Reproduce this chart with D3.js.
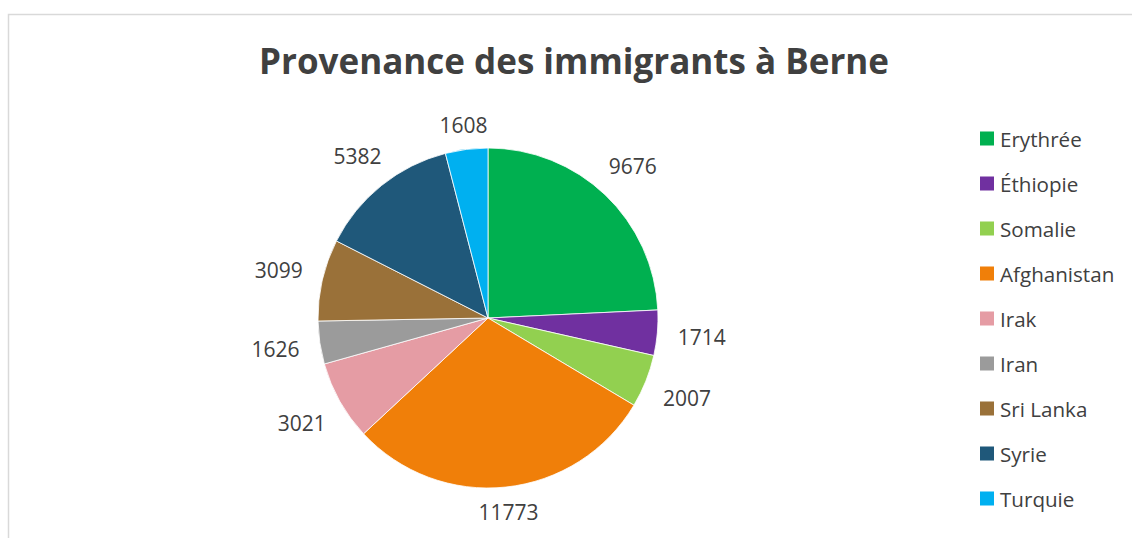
<!DOCTYPE html>
<html>
<head>
<meta charset="utf-8">
<script src="https://cdn.jsdelivr.net/npm/d3@7"></script>
<style>
  html, body { margin: 0; padding: 0; background: #fff; }
  svg { display: block; }
</style>
</head>
<body>
<svg id="chart" width="1132" height="538"></svg>
<script>
// Countries of origin and number of immigrants
const countries = ["Erythrée", "Éthiopie", "Somalie", "Afghanistan", "Irak", "Iran", "Sri Lanka", "Syrie", "Turquie"];
const counts = [9676, 1714, 2007, 11773, 3021, 1626, 3099, 5382, 1608];
const colors = ["#00B050", "#7030A0", "#92D050", "#F07F09", "#E59CA4", "#9B9B9B", "#9A7139", "#1F587A", "#00B0F0"];
const title = "Provenance des immigrants à Berne";

const W = 1132, H = 538;
const svg = d3.select("#chart");
const font = "'Open Sans', 'Noto Sans', sans-serif";
const textColor = "#404040";

// Chart frame
svg.append("rect")
  .attr("x", 8.5).attr("y", 14.5)
  .attr("width", W + 10).attr("height", H + 10)
  .attr("fill", "none").attr("stroke", "#d9d9d9").attr("stroke-width", 1.5);

// Title
svg.append("text")
  .attr("x", 574).attr("y", 74)
  .attr("text-anchor", "middle")
  .attr("font-family", font).attr("font-weight", 700)
  .attr("font-size", 35).attr("fill", textColor)
  .text(title);

// Pie
const cx = 488, cy = 318, r = 170;
const data = countries.map((c, i) => ({ name: c, value: counts[i], color: colors[i] }));
const pie = d3.pie().value(d => d.value).sort(null);
const arcs = pie(data);
const arc = d3.arc().innerRadius(0).outerRadius(r);

const g = svg.append("g").attr("transform", `translate(${cx},${cy})`);
g.selectAll("path.slice")
  .data(arcs)
  .join("path")
  .attr("class", "slice")
  .attr("d", arc)
  .attr("fill", d => d.data.color)
  .attr("stroke", "#fff")
  .attr("stroke-width", 0.8);

// Value labels outside the slices
const fmt = d3.format("d");
const labelSize = 21;
const gap = 14;
g.selectAll("text.val")
  .data(arcs)
  .join("text")
  .attr("class", "val")
  .attr("font-family", font).attr("font-size", labelSize)
  .attr("fill", textColor)
  .attr("text-anchor", "middle")
  .attr("dominant-baseline", "central")
  .text(d => fmt(d.data.value))
  .each(function(d) {
    const a = (d.startAngle + d.endAngle) / 2;
    const w = this.getComputedTextLength();
    const h = 14;
    const s = Math.sin(a), c = -Math.cos(a);
    const dist = r + gap + Math.abs(s) * (w / 2 + 6) + Math.abs(c) * h / 2;
    d3.select(this).attr("x", s * dist).attr("y", c * dist);
  });

// Legend
const legendY = d3.scalePoint().domain(countries).range([138.5, 498.5]);
const lg = svg.append("g");
const items = lg.selectAll("g.item")
  .data(data)
  .join("g")
  .attr("class", "item")
  .attr("transform", d => `translate(980,${legendY(d.name)})`);
items.append("rect")
  .attr("x", 0).attr("y", -7)
  .attr("width", 14).attr("height", 14)
  .attr("fill", d => d.color);
items.append("text")
  .attr("x", 20).attr("y", 0)
  .attr("dominant-baseline", "central")
  .attr("font-family", font).attr("font-size", 20.6)
  .attr("fill", textColor)
  .text(d => d.name);
</script>
</body>
</html>
